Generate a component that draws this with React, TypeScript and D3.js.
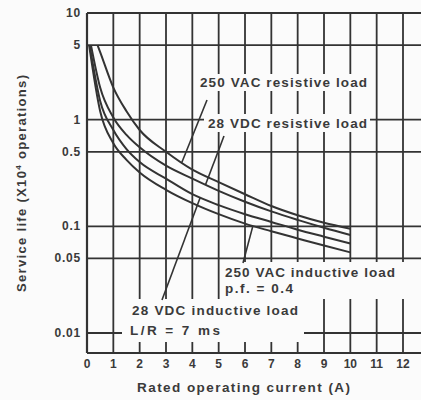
import React from "react";
import * as d3 from "d3";

// service life curves, x = rated current (A), y = life (x10^4 operations)
const vacResCurrent = [0.4, 0.5, 1, 1.5, 2, 3, 4, 5, 6, 7, 8, 9, 10];
const vacResLife = [5, 4.3, 2.0, 1.2, 0.8, 0.5, 0.34, 0.26, 0.2, 0.155, 0.127, 0.108, 0.095];

const vdcResCurrent = [0.15, 0.5, 1, 1.5, 2, 3, 4, 5, 6, 7, 8, 9, 10];
const vdcResLife = [5, 2.0, 1.05, 0.72, 0.55, 0.37, 0.28, 0.215, 0.17, 0.138, 0.115, 0.097, 0.083];

const vdcIndCurrent = [0.1, 0.5, 1, 1.5, 2, 3, 4, 5, 6, 7, 8, 9, 10];
const vdcIndLife = [5, 1.5, 0.8, 0.53, 0.4, 0.28, 0.2, 0.158, 0.13, 0.11, 0.093, 0.08, 0.069];

const vacIndCurrent = [0.08, 0.5, 1, 1.5, 2, 3, 4, 5, 6, 7, 8, 9, 10];
const vacIndLife = [5, 1.2, 0.6, 0.42, 0.32, 0.22, 0.165, 0.13, 0.106, 0.09, 0.077, 0.066, 0.057];

const yTicks = [10, 5, 1, 0.5, 0.1, 0.05, 0.01];
const yTickLabels = ["10", "5", "1", "0.5", "0.1", "0.05", "0.01"];
const xTicks = [0, 1, 2, 3, 4, 5, 6, 7, 8, 9, 10, 11, 12];

const ink = "#333";
const font = "'Liberation Sans', Arial, sans-serif";

// log-space interpolation along a curve, for the leader line ends
const lifeAt = (xs: number[], ys: number[], x: number) => {
  for (let i = 0; i < xs.length - 1; i++) {
    if (x >= xs[i] && x <= xs[i + 1]) {
      const t = (x - xs[i]) / (xs[i + 1] - xs[i]);
      const a = Math.log10(ys[i]);
      const b = Math.log10(ys[i + 1]);
      return Math.pow(10, a + (b - a) * t);
    }
  }
  return ys[ys.length - 1];
};

const App = () => {
  const width = 421;
  const height = 400;
  const x = d3.scaleLinear().domain([0, 12]).range([87, 403]);
  const y = d3.scaleLog().domain([0.01, 10]).range([333, 13]);
  const gridRight = 421;
  const bottom = 353;

  const line = d3
    .line<[number, number]>()
    .x((d) => x(d[0]))
    .y((d) => y(d[1]))
    .curve(d3.curveMonotoneX);

  const series = [
    { xs: vacResCurrent, ys: vacResLife },
    { xs: vdcResCurrent, ys: vdcResLife },
    { xs: vdcIndCurrent, ys: vdcIndLife },
    { xs: vacIndCurrent, ys: vacIndLife },
  ];

  // leader: label point -> point on curve
  const leaders = [
    { from: [207, 100], s: series[0], at: 3.6 },
    { from: [224, 136], s: series[1], at: 4.5 },
    { from: [162, 300], s: series[2], at: 4.3 },
    { from: [243, 263], s: series[3], at: 6.3 },
  ];

  const labelStyle = {
    fontFamily: font,
    fontSize: 13.5,
    fontWeight: "bold" as const,
    fill: "#3a3a3a",
    lengthAdjust: "spacing",
  };

  return (
    <svg width={width} height={height} style={{ position: "absolute", left: 0, top: 0 }}>
      <rect width={width} height={height} fill="#fbfbfb" />

      {/* grid */}
      {xTicks.map((t) => (
        <line key={"v" + t} x1={x(t)} x2={x(t)} y1={y(10)} y2={bottom} stroke={ink} strokeWidth={t === 0 ? 2.2 : 1.8} />
      ))}
      {yTicks.map((t) => (
        <line key={"h" + t} x1={x(0)} x2={gridRight} y1={y(t)} y2={y(t)} stroke={ink} strokeWidth={1.8} />
      ))}
      <line x1={x(0)} x2={gridRight} y1={bottom} y2={bottom} stroke={ink} strokeWidth={2.2} />

      {/* label knock-outs */}
      <rect x={197} y={74} width={174} height={17} fill="#fbfbfb" />
      <rect x={204} y={114} width={166} height={18} fill="#fbfbfb" />
      <rect x={222} y={262} width={199} height={37} fill="#fbfbfb" />
      <rect x={122} y={299} width={182} height={43} fill="#fbfbfb" />

      {/* curves */}
      {series.map((s, i) => (
        <path
          key={i}
          d={line(s.xs.map((v, j) => [v, s.ys[j]] as [number, number])) || ""}
          fill="none"
          stroke={ink}
          strokeWidth={2}
        />
      ))}

      {leaders.map((l, i) => (
        <line
          key={"l" + i}
          x1={l.from[0]}
          y1={l.from[1]}
          x2={x(l.at)}
          y2={y(lifeAt(l.s.xs, l.s.ys, l.at))}
          stroke={ink}
          strokeWidth={1.6}
        />
      ))}

      <text x={200} y={87} textLength={167} {...labelStyle}>250 VAC resistive load</text>
      <text x={208} y={128} textLength={159} {...labelStyle}>28 VDC resistive load</text>
      <text x={225} y={277} textLength={170} {...labelStyle}>250 VAC inductive load</text>
      <text x={225} y={293} textLength={68} {...labelStyle}>p.f. = 0.4</text>
      <text x={132} y={315} textLength={166} {...labelStyle}>28 VDC inductive load</text>
      <text x={130} y={335} textLength={90} {...labelStyle}>L/R = 7 ms</text>

      {/* y tick labels */}
      {yTicks.map((t, i) => (
        <text
          key={"yt" + t}
          x={81}
          y={y(t) + 4}
          textAnchor="end"
          fontFamily={font}
          fontSize={12}
          fontWeight="bold"
          fill="#3a3a3a"
          letterSpacing={0.8}
        >
          {yTickLabels[i]}
        </text>
      ))}

      {/* x tick labels */}
      {xTicks.map((t) => (
        <text
          key={"xt" + t}
          x={x(t)}
          y={368}
          textAnchor="middle"
          fontFamily={font}
          fontSize={12}
          fontWeight="bold"
          fill="#3a3a3a"
        >
          {t}
        </text>
      ))}

      <text x={137} y={392} textLength={213} {...labelStyle}>
        Rated operating current (A)
      </text>
      <text
        transform="translate(26,292) rotate(-90)"
        textLength={217}
        {...labelStyle}
        fontSize={13}
      >
        Service life (X10<tspan dy={-5} fontSize={8}>4</tspan>
        <tspan dy={5}> operations)</tspan>
      </text>
    </svg>
  );
};

export default App;
